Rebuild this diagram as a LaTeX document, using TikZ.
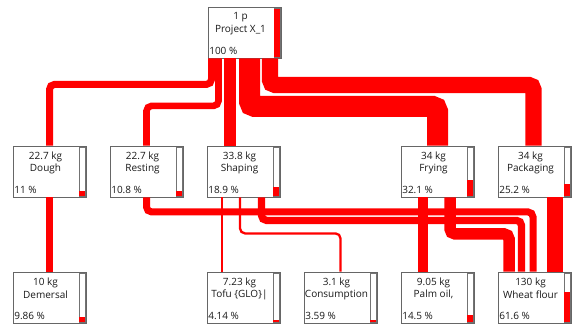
\documentclass[tikz,border=0pt]{standalone}
\usepackage{fontspec}
\setmainfont{Open Sans}
\usepackage{tikz}

\begin{document}
\begin{tikzpicture}[x=1pt, y=-1pt,
    box/.style={draw=black!60, fill=white, line width=0.8pt, minimum width=73pt, minimum height=51pt, inner sep=0pt},
    bar/.style={draw=black!55, fill=white, line width=0.6pt},
    txt/.style={font=\fontsize{10}{11}\selectfont, text=black!90, inner sep=0pt},
    flow/.style={draw=red, line width=#1, rounded corners=5pt}]
  \useasboundingbox (0,0) rectangle (572,324);
  % プロセスの箱（名前/x/y/量/名称/割合）
  \foreach \n/\x/\y/\m/\t/\p in {
      top/244.5/32.5/1 p/Project X\_1/100,
      dough/49.5/171.5/22.7 kg/Dough/11,
      resting/146.5/171.5/22.7 kg/Resting/10.8,
      shaping/243.5/171.5/33.8 kg/Shaping/18.9,
      frying/437.5/171.5/34 kg/Frying/32.1,
      packaging/534.5/171.5/34 kg/Packaging/25.2,
      demersal/49.5/297.5/10 kg/Demersal/9.86,
      tofu/243.5/297.5/7.23 kg/Tofu \{GLO\}|/4.14,
      consumption/340.5/297.5/3.1 kg/Consumption/3.59,
      palm/437.5/297.5/9.05 kg/{Palm oil,}/14.5,
      wheat/534.5/297.5/130 kg/Wheat flour/61.6} {
    \node[box] (\n) at (\x,\y) {};
    % 右側のバー（枠と赤い割合）
    \draw[bar] ([shift={(-7.5,1.5)}]\n.north east) rectangle ([shift={(-1.5,-1.5)}]\n.south east);
    \fill[red] ([shift={(-7.5,-1.5)}]\n.south east) rectangle ([shift={(-1.5,{-1.5-0.48*\p})}]\n.south east);
    % テキスト
    \node[txt] (\n-m) at ([shift={(-4,11)}]\n.north) {\m};
    \node[txt] (\n-t) at ([shift={(-4,23)}]\n.north) {\t};
    \node[txt, anchor=west] (\n-p) at ([shift={(1.5,-7)}]\n.south west) {\p~\%};
  }
  % 上段：Project X_1 から各工程へ
  \draw[flow=7] ([xshift=-33]top.south) -- ++(0,26) -| (dough.north);
  \draw[flow=6.6] ([xshift=-26]top.south) -- ++(0,47.5) -| (resting.north);
  \draw[flow=12.2] ([xshift=-14.5]top.south) -- ([xshift=-14.5]top.south |- shaping.north);
  \draw[flow=21] ([xshift=5]top.south) -- ++(0,48) -| (frying.north);
  \draw[flow=16.3] ([xshift=25.5]top.south) -- ++(0,26.5) -| ([xshift=-1]packaging.north);
  % 下段：原料から各工程へ
  \draw[flow=6.5] (demersal.north) -- (dough.south);
  \draw[flow=7] (resting.south) -- ++(0,14.5) -| ([xshift=-1.5]wheat.north);
  \draw[flow=2.7] ([xshift=-21.5]shaping.south) -- ([xshift=-21.5]tofu.north);
  \draw[flow=2.3] ([xshift=-3.5]shaping.south) -- ++(0,36) -| (consumption.north);
  \draw[flow=7.3] ([xshift=18]shaping.south) -- ++(0,23) -| ([xshift=-13]wheat.north);
  \draw[flow=9.5] ([xshift=-14.5]frying.south) -- ([xshift=-14.5]palm.north);
  \draw[flow=11.5] ([xshift=12.5]frying.south) -- ++(0,36.5) -| ([xshift=-25.5]wheat.north);
  \draw[flow=16.5] ([xshift=20.5]packaging.south) -- ([xshift=20.5]wheat.north);
\end{tikzpicture}
\end{document}
